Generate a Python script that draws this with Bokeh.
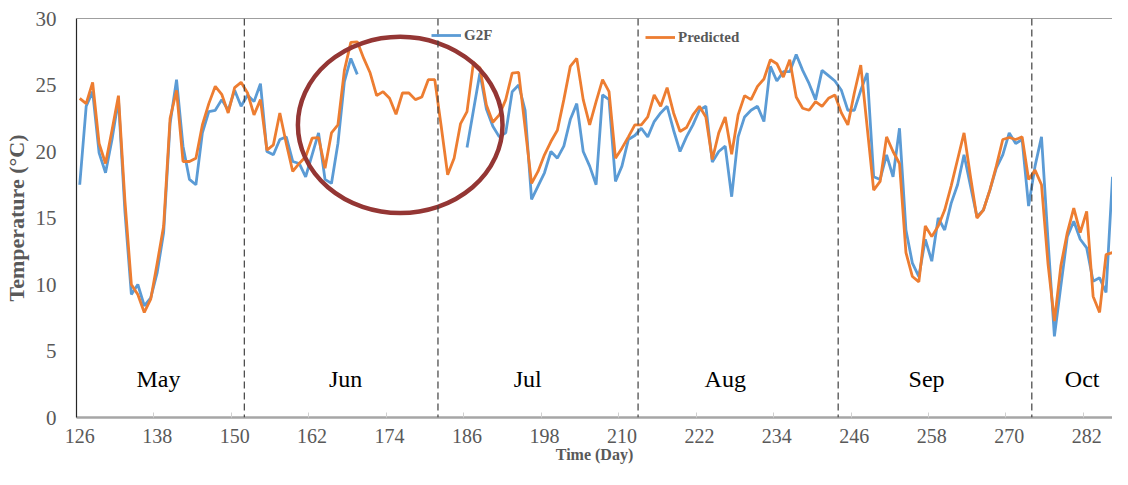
import numpy as np
from bokeh.plotting import figure
from bokeh.models import (Range1d, FixedTicker, Span, Legend, LegendItem, ColumnDataSource)
from bokeh.core.properties import value
from bokeh.embed import file_html
from bokeh.resources import INLINE

# ---------------- data ----------------
days = list(range(126, 289))

g2f = [17.5, 23.4, 24.5, 19.9, 18.4, 20.9, 23.9, 15.5, 9.25, 10.0,
       8.4, 9.0, 10.9, 13.9, 22.1, 25.4, 20.4, 17.9, 17.5, 21.4,
       23.0, 23.1, 23.9, 23.1, 24.6, 23.4, 24.25, 23.75, 25.1, 20.0,
       19.75, 20.9, 21.1, 19.25, 19.1, 18.1, 19.75, 21.4, 17.9, 17.6,
       20.6, 25.25, 27.0, 25.8,
       None, None, None, None, None, None, None, None, None, None, None, None, None, None, None, None,
       20.3, 23.1, 25.9, 23.2, 21.9, 21.1, 21.4, 24.5, 25.0, 23.1,
       16.4, 17.4, 18.4, 20.0, 19.5, 20.4, 22.4, 23.6, 20.0, 18.9,
       17.5, 24.25, 23.9, 17.75, 18.9, 20.9, 21.2, 21.75, 21.1, 22.25,
       22.9, 23.4, 21.6, 20.0, 21.1, 22.0, 23.1, 23.4, 19.2, 20.0,
       20.4, 16.6, 21.1, 22.6, 23.1, 23.4, 22.25, 26.4, 25.3, 26.0,
       26.0, 27.3, 26.1, 25.1, 23.9, 26.1, 25.7, 25.3, 24.6, 23.1,
       23.1, 24.6, 25.9, 18.1, 17.9, 19.75, 18.1, 21.75, 14.1, 11.6,
       10.6, 13.4, 11.75, 15.0, 14.1, 16.1, 17.5, 19.75, 17.4, 15.1,
       15.6, 17.1, 18.75, 19.75, 21.4, 20.6, 20.9, 15.9, 18.9, 21.1,
       13.4, 6.1, 9.9, 13.6, 14.75, 13.4, 12.75, 10.25, 10.5, 9.4,
       18.1, 15.4, 12.4]

predicted = [24.0, 23.6, 25.2, 20.6, 19.1, 21.6, 24.2, 16.3, 10.0, 9.25,
             7.9, 8.9, 11.6, 14.4, 22.5, 24.6, 19.25, 19.25, 19.5, 22.0,
             23.6, 24.9, 24.3, 22.9, 24.8, 25.2, 24.4, 22.75, 23.9, 20.1,
             20.5, 22.9, 20.6, 18.5, 19.1, 19.6, 21.0, 21.05, 18.75, 21.4,
             22.0, 26.1, 28.2, 28.25, 27.0, 25.9, 24.2, 24.5, 24.0, 22.8,
             24.4, 24.4, 23.9, 24.1, 25.4, 25.4, 21.9, 18.25, 19.5, 22.1,
             23.0, 26.7, 26.3, 23.5, 22.2, 22.75, 23.9, 25.9, 25.95, 21.8,
             17.6, 18.5, 19.75, 20.75, 21.6, 23.9, 26.4, 27.0, 23.9, 22.0,
             23.75, 25.4, 24.5, 19.5, 20.25, 21.1, 22.0, 22.0, 22.6, 24.25,
             23.4, 24.8, 22.9, 21.5, 21.8, 22.75, 23.4, 22.6, 19.4, 21.4,
             22.6, 19.8, 22.75, 24.2, 23.9, 24.9, 25.45, 26.9, 26.6, 25.6,
             26.9, 24.1, 23.25, 23.1, 23.75, 23.4, 24.0, 24.25, 22.9, 22.0,
             24.4, 26.5, 21.8, 17.1, 17.75, 21.1, 20.0, 19.1, 12.4, 10.6,
             10.2, 14.4, 13.6, 14.4, 15.6, 17.4, 19.4, 21.4, 18.1, 15.0,
             15.6, 17.1, 18.9, 20.9, 21.05, 20.9, 21.1, 17.9, 18.6, 17.5,
             11.6, 7.25, 11.4, 13.9, 15.75, 13.9, 15.5, 9.1, 7.9, 12.25,
             12.4, 12.9, 11.0]

month_names = ["May", "Jun", "Jul", "Aug", "Sep", "Oct"]
month_label_x = [138.2, 167.2, 195.4, 226.0, 257.2, 281.3]
month_bounds = [151.5, 181.5, 212.5, 243.5, 273.5]
x_tick_values = list(range(126, 283, 12))
y_tick_values = [0, 5, 10, 15, 20, 25, 30]

assert len(g2f) == len(days) and len(predicted) == len(days)

BLUE = "#5B9BD5"
ORANGE = "#ED7D31"
GRAY = "#595959"
SERIF = "Liberation Serif"

src = ColumnDataSource(dict(
    day=days,
    g2f=[np.nan if v is None else v for v in g2f],
    pred=predicted,
))

p = figure(width=1112, height=469, output_backend="svg", toolbar_location=None,
           x_range=Range1d(125.5, 286.0), y_range=Range1d(0, 30),
           min_border_left=75, min_border_right=0, min_border_top=18, min_border_bottom=52)
p.outline_line_color = None
p.background_fill_color = "white"
p.border_fill_color = "white"
p.grid.visible = False

blue_r = p.line("day", "g2f", source=src, line_color=BLUE, line_width=2.8)
orange_r = p.line("day", "pred", source=src, line_color=ORANGE, line_width=2.8)

# month boundaries
for b in month_bounds:
    p.add_layout(Span(location=b, dimension="height", line_color="#404040",
                      line_width=1.2, line_dash="7 4"))
# top border
p.add_layout(Span(location=30, dimension="width", line_color="#404040", line_width=1.2))

# month labels
p.text(x=month_label_x, y=[2.9] * len(month_names), text=month_names,
       text_font=value(SERIF), text_font_size="24px", text_color="black",
       text_align="center", text_baseline="middle")

# highlight ellipse
p.ellipse(x=[175.65], y=[22.0], width=31.7, height=13.25, fill_color=None,
          line_color="#943634", line_width=4.5)

# x axis
xa = p.xaxis[0]
xa.ticker = FixedTicker(ticks=x_tick_values,
                        minor_ticks=[t - 0.5 for t in x_tick_values] + [x_tick_values[-1] + 11.5])
xa.major_tick_in = 0
xa.major_tick_out = 0
xa.minor_tick_in = 5
xa.minor_tick_out = 0
xa.minor_tick_line_color = "#d0d0d0"
xa.axis_line_color = "#a6a6a6"
xa.axis_line_width = 2.5
xa.major_label_text_font = SERIF
xa.major_label_text_font_size = "20px"
xa.major_label_text_color = GRAY
xa.major_label_standoff = 11
xa.axis_label = "Time (Day)"
xa.axis_label_text_font = SERIF
xa.axis_label_text_font_style = "bold"
xa.axis_label_text_font_size = "16px"
xa.axis_label_text_color = GRAY
xa.axis_label_standoff = 0

# y axis
ya = p.yaxis[0]
ya.ticker = FixedTicker(ticks=y_tick_values)
ya.major_tick_in = 0
ya.major_tick_out = 0
ya.minor_tick_in = 0
ya.minor_tick_out = 0
ya.axis_line_color = "#262626"
ya.axis_line_width = 1.2
ya.major_label_text_font = SERIF
ya.major_label_text_font_size = "21px"
ya.major_label_text_color = GRAY
ya.major_label_standoff = 20
ya.axis_label = "Temperature (°C)"
ya.axis_label_text_font = SERIF
ya.axis_label_text_font_style = "bold"
ya.axis_label_text_font_size = "22px"
ya.axis_label_text_color = GRAY
ya.axis_label_standoff = 4

# legends
for label, r, loc in [("G2F", blue_r, (355, 372)), ("Predicted", orange_r, (569, 370))]:
    lg = Legend(items=[LegendItem(label=label, renderers=[r])], location=loc,
                orientation="horizontal", padding=0, margin=0, border_line_color=None,
                background_fill_alpha=0, glyph_width=30, glyph_height=20,
                label_height=20, label_standoff=3,
                label_text_font=SERIF, label_text_font_style="bold",
                label_text_font_size="15px", label_text_color=GRAY)
    p.add_layout(lg, "center")

open("out.html", "w").write(file_html(p, INLINE))
